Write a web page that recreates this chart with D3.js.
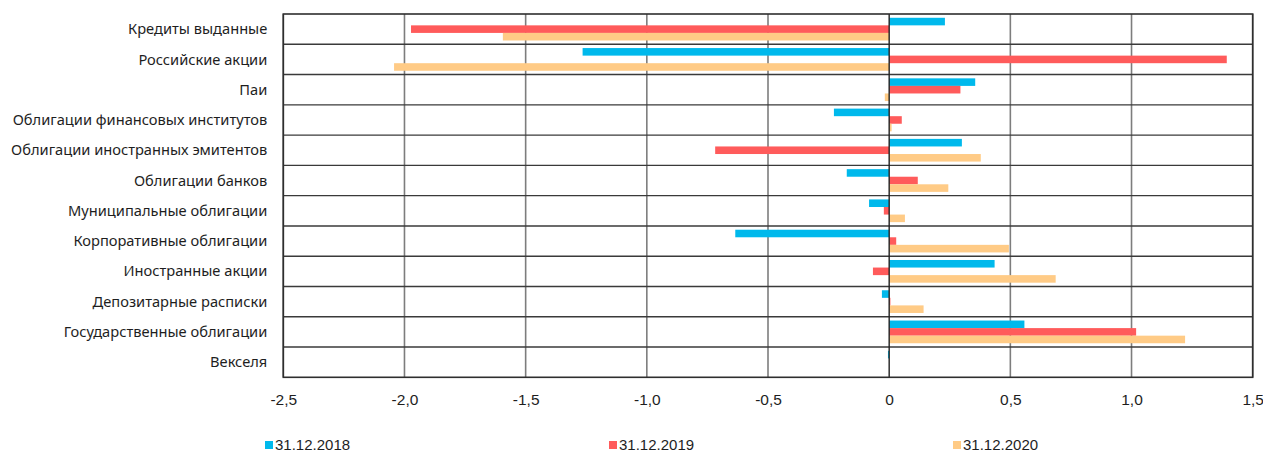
<!DOCTYPE html>
<html>
<head>
<meta charset="utf-8">
<script src="https://cdn.jsdelivr.net/npm/d3@7"></script>
<style>
  html, body { margin: 0; padding: 0; background: #ffffff; }
  svg { display: block; }
</style>
</head>
<body>
<div id="chart"></div>
<script>
const WIDTH = 1263;
const HEIGHT = 452;

const categories = [
    "Кредиты выданные",
    "Российские акции",
    "Паи",
    "Облигации финансовых институтов",
    "Облигации иностранных эмитентов",
    "Облигации банков",
    "Муниципальные облигации",
    "Корпоративные облигации",
    "Иностранные акции",
    "Депозитарные расписки",
    "Государственные облигации",
    "Векселя"
];
const seriesNames = ["31.12.2018", "31.12.2019", "31.12.2020"];
const values2018 = [0.23, -1.265, 0.355, -0.228, 0.30, -0.175, -0.083, -0.635, 0.435, -0.03, 0.558, -0.005];
const values2019 = [-1.973, 1.393, 0.294, 0.052, -0.718, 0.118, -0.022, 0.029, -0.067, 0.005, 1.019, 0];
const values2020 = [-1.594, -2.043, -0.018, 0.01, 0.378, 0.244, 0.065, 0.494, 0.687, 0.142, 1.221, 0];
const xTicks = [-2.5, -2.0, -1.5, -1.0, -0.5, 0, 0.5, 1.0, 1.5];
const seriesColors = ["#00b9ec", "#ff5b5b", "#ffcb86"];

const margin = { top: 14, right: 10.3, bottom: 74.7, left: 283.3 };
const innerW = WIDTH - margin.left - margin.right;
const innerH = HEIGHT - margin.top - margin.bottom;

const allValues = [values2018, values2019, values2020];
const rows = categories.map((c, i) => ({
    category: c,
    values: seriesNames.map((s, k) => ({ series: s, value: allValues[k][i] }))
}));

const svg = d3.select("#chart")
    .append("svg")
    .attr("width", WIDTH)
    .attr("height", HEIGHT);

const chart = svg.append("g")
    .attr("transform", `translate(${margin.left}, ${margin.top})`);

const x = d3.scaleLinear()
    .domain([-2.5, 1.5])
    .range([0, innerW]);

const y = d3.scaleBand()
    .domain(categories)
    .range([0, innerH])
    .paddingInner(0)
    .paddingOuter(0);

const ySub = d3.scaleBand()
    .domain(seriesNames)
    .range([0, y.bandwidth()])
    .paddingInner(0)
    .paddingOuter(0.5);

const color = d3.scaleOrdinal()
    .domain(seriesNames)
    .range(seriesColors);

// Vertical grid lines (the zero line is drawn later, above the bars).
chart.append("g")
    .selectAll("line")
    .data(xTicks.filter(t => t !== 0))
    .join("line")
    .attr("x1", d => x(d))
    .attr("x2", d => x(d))
    .attr("y1", 0)
    .attr("y2", innerH)
    .attr("stroke", "#7d7d7d")
    .attr("stroke-width", 1.6);

// Horizontal row separators.
chart.append("g")
    .selectAll("line")
    .data(categories.slice(1))
    .join("line")
    .attr("x1", 0)
    .attr("x2", innerW)
    .attr("y1", d => y(d))
    .attr("y2", d => y(d))
    .attr("stroke", "#3a3a3a")
    .attr("stroke-width", 1.4);

// Bars for each category and year.
chart.append("g")
    .selectAll("g")
    .data(rows)
    .join("g")
    .attr("transform", d => `translate(0, ${y(d.category)})`)
    .selectAll("rect")
    .data(d => d.values)
    .join("rect")
    .attr("x", d => x(Math.min(0, d.value)))
    .attr("width", d => Math.abs(x(d.value) - x(0)))
    .attr("y", d => ySub(d.series))
    .attr("height", ySub.bandwidth())
    .attr("fill", d => color(d.series));

// Zero line and outer frame.
chart.append("line")
    .attr("x1", x(0))
    .attr("x2", x(0))
    .attr("y1", 0)
    .attr("y2", innerH)
    .attr("stroke", "#222222")
    .attr("stroke-width", 1.4);

chart.append("rect")
    .attr("x", 0)
    .attr("y", 0)
    .attr("width", innerW)
    .attr("height", innerH)
    .attr("fill", "none")
    .attr("stroke", "#2e2e2e")
    .attr("stroke-width", 1.6);

// Category labels on the left.
chart.append("g")
    .selectAll("text")
    .data(categories)
    .join("text")
    .attr("x", -16)
    .attr("y", d => y(d) + y.bandwidth() / 2)
    .attr("dy", "0.35em")
    .attr("text-anchor", "end")
    .style("font-family", "'Noto Sans', sans-serif")
    .style("font-size", "14.65px")
    .style("fill", "#1e1e1e")
    .text(d => d);

// X axis labels with comma decimals.
const xAxis = d3.axisBottom(x)
    .tickValues(xTicks)
    .tickSize(0)
    .tickPadding(17)
    .tickFormat(d => d === 0 ? "0" : d3.format(".1f")(d).replace(".", ",").replace("−", "-"));

const axisG = chart.append("g")
    .attr("transform", `translate(0, ${innerH})`)
    .call(xAxis);

axisG.select(".domain").remove();
axisG.selectAll("text")
    .style("font-family", "'Liberation Sans', sans-serif")
    .style("font-size", "15.5px")
    .style("fill", "#1e1e1e");

// Legend along the bottom.
const legendX = [265, 609, 953];
const legend = svg.append("g")
    .selectAll("g")
    .data(seriesNames)
    .join("g")
    .attr("transform", (d, i) => `translate(${legendX[i]}, 441)`);

legend.append("rect")
    .attr("width", 8)
    .attr("height", 8)
    .attr("fill", d => color(d));

legend.append("text")
    .attr("x", 10)
    .attr("y", 4)
    .attr("dy", "0.36em")
    .style("font-family", "'Liberation Sans', sans-serif")
    .style("font-size", "15px")
    .style("fill", "#1e1e1e")
    .text(d => d);
</script>
</body>
</html>
